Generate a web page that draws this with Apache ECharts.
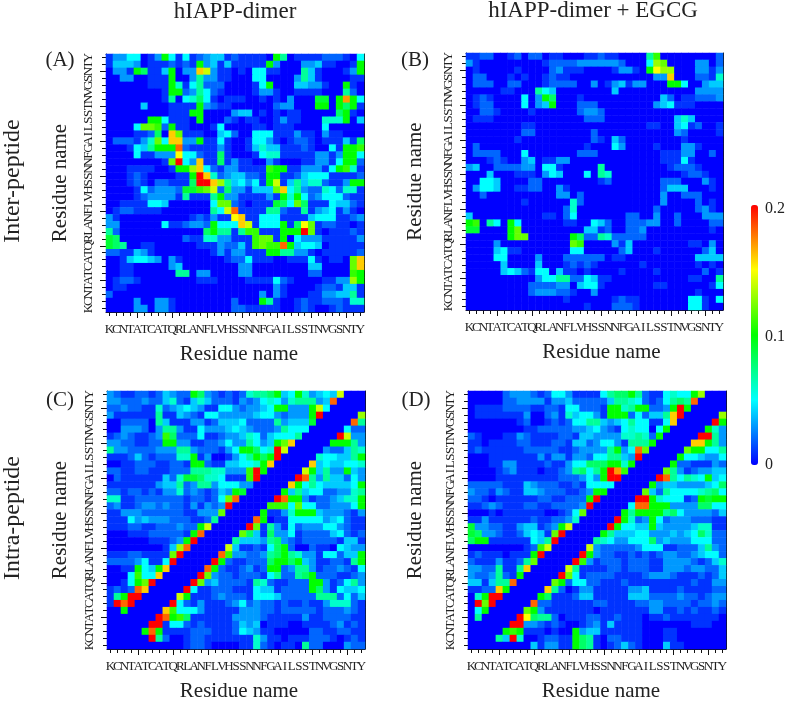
<!DOCTYPE html>
<html><head><meta charset="utf-8">
<style>html,body{margin:0;padding:0;background:#fff}#c{width:787px;height:703px}</style>
<script src="https://cdn.jsdelivr.net/npm/echarts@6/dist/echarts.min.js"></script>
</head><body><div id="c"></div>
<script>
// Residue sequence (axis tick labels)
const residues = "KCNTATCATQRLANFLVHSSNNFGAILSSTNVGSNTY".split("");
const columnTitles = ["hIAPP-dimer", "hIAPP-dimer + EGCG"];
const rowTitles = ["Inter-peptide", "Intra-peptide"];
const panelLetters = ["(A)", "(B)", "(C)", "(D)"];
const colorbarTicks = ["0", "0.1", "0.2"];
// Each row is one picture row, top to bottom. Each character is the contact
// probability in hundredths in base 21 (0..9, a=0.10 .. k=0.20).
const panelA = [
"13355 013a5 15123 44121 1110a 70111 12221 05","14443 01112 121a3 41411 111a3 00033 41100 1a",
"0331a 8114a 033ge 31101 05511 00074 10001 3a","00330 0111a 00373 31100 05500 00374 10000 11",
"00000 0111a 61572 22000 015a0 00443 3100a 10","00000 0001a a2375 21000 01331 00111 10007 20",
"00000 00017 05685 10111 00101 03000 990ah a5","00000 40001 111a3 21100 00002 33000 aa0a8 a1",
"00000 00001 11aa0 00034 40101 01100 0008a 10","00000 0aa51 110a0 00210 11001 31100 0666a 04",
"00005 ccb2a 11000 15000 01101 11000 05000 00","00001 1280g c1110 04520 05551 11311 03110 00",
"02221 36c5g g33a1 15100 15531 01221 01114 18","00015 47aaa i2111 13100 14644 11121 0051a ab",
"00005 11333 f5521 18100 01566 11111 3313a a5","00000 0001c k53g1 18131 10031 00011 3315a a2",
"00011 11001 aadg5 21331 111ba a1133 315ab 61","00012 10000 11akg 62344 221aa 11245 55111 12",
"00012 10221 118kk gd745 351ae 14746 62113 aa","00001 52333 299bc e2833 1444c g5732 26526 61",
"00001 23333 17111 7a331 11131 a6a52 35552 11","00111 15540 00000 5cc21 01119 85c81 11544 21",
"01221 11100 00000 75ei1 11177 21171 34513 10","31000 00000 00121 311fg 11555 11114 55511 23",
"33000 00051 12332 a555g e1555 a18fc 12211 01","72000 00000 00008 a7717 bb111 aaakc 10111 21",
"98000 00000 02116 63311 1bcc1 a0533 31111 13","98700 11000 00011 13224 1bcbb ia455 40111 11",
"22114 31000 00000 13133 111aa 77331 01111 12","00145 54303 10000 00122 51110 01115 10110 cg",
"00110 00003 40000 00003 30000 00004 40000 cg","00110 00000 77033 00003 30000 00002 20000 ba",
"01221 00000 00011 10000 11115 21000 01133 da","01100 00000 00000 00000 00003 10000 12214 41",
"20000 00000 00000 00000 00303 10001 13344 71","00003 00331 00000 00020 00a71 00121 12221 66",
"00003 30331 00000 00022 11111 00121 00121 11"];
const panelB = [
"11220 01202 20110 00112 11000 07b00 00000 02","31000 00000 01222 23333 33200 05dc0 00033 02",
"01000 00100 00231 11000 01331 0afdd 00033 13","02200 01010 01211 00000 00000 0033g 00022 16",
"02220 02200 01222 20030 13413 3000a a5003 44","00000 11000 75400 00000 04000 00000 00033 33",
"01210 00050 3a800 01000 00000 00042 01122 23","01220 00050 34a00 02220 00000 00345 11100 00",
"00221 00001 00000 02332 00000 00000 00000 00","01110 00000 00000 00222 00000 00000 46400 00",
"00000 00011 00000 00000 00000 01100 45120 01","00000 00022 00000 00020 00000 00000 32000 01",
"00000 00100 00000 00021 04200 00000 01000 00","02000 00000 00000 00100 05300 00100 03310 00",
"02222 00050 00000 02220 00000 00011 13300 20","00012 10034 01133 00000 00000 00011 15100 00",
"34002 22233 05510 00007 00000 00001 22210 00","00040 00111 03540 00507 60000 00000 01221 00",
"00554 00002 20000 00001 20000 00022 20003 10","03554 00112 20031 00000 00000 00024 44000 10",
"00200 00000 00033 02000 00000 00030 02220 00","00000 00010 00000 62000 00000 00030 00020 10",
"00000 00000 00002 60000 00000 00200 00023 10","40000 00000 01102 50000 00022 00300 20003 33",
"ab075 0a500 00001 10054 20022 23300 20000 22","99000 0ac00 00000 00441 20022 30000 00000 10",
"00000 0acc0 00000 a8227 62222 20000 00000 00","00003 00000 00000 cb000 03140 00000 00110 30",
"00004 51100 00000 55000 00240 00100 00002 40","00005 50000 30002 22222 01100 00000 00044 44",
"00000 40000 40001 21210 00000 10000 00010 10","00000 45421 55041 10100 00100 00100 00002 01",
"00000 00000 35577 22541 10000 00000 00110 07","00000 00002 22233 04551 00000 00110 00000 15",
"00000 00002 33322 10030 00000 00000 00010 00","00000 00000 00001 00000 01211 00000 00551 05",
"00000 00000 00000 00100 02221 00000 00551 00"];
const panelC = [
"32112 21243 22a83 21212 6778a 45a63 454e0 00","33222 32246 21464 22213 23565 36777 34i00 00",
"22322 11623 45431 15532 3345a a333a e5000 00","31111 11711 43215 53333 34553 2333a k0000 0d",
"00222 20741 11331 24445 22227 34449 00000 i7","00333 20377 31153 33454 32223 75550 00005 22",
"12321 123b8 22251 12334 65245 55700 000ke 33","33221 122aa 33112 23533 7534a cg000 00aaa 73",
"73322 22333 77322 2135a a856k e0000 03224 76","11124 21222 66a13 00135 7a8ak 00000 65544 7a",
"00112 22112 21aa2 11445 56ag0 0000g 45445 56","22112 21112 22777 66333 bka00 000ea 4733a 43",
"02111 11142 69986 65111 bk000 00ki7 37442 53","11111 11344 72377 35553 30000 0ga57 54444 5a",
"22122 12133 62321 243a9 00000 a4745 52233 67","66112 22222 21221 25ci0 0000k iaa31 22346 6a",
"23112 33232 21313 23k00 000bb b5c55 22333 5a","11333 22222 21133 3c000 00a11 36aaa 43332 13",
"11153 43332 22112 70000 0ia01 15555 53452 11","11122 11222 322ae 00000 kc173 15233 35532 11",
"00011 12222 21ai0 0000c 84183 35122 22452 12","00000 01112 3ak00 00074 44378 32122 22214 41",
"00000 00014 di000 00e41 12158 a2002 11054 33","11122 1111c k0000 0ib33 22378 a7633 15524 4a",
"22223 5115k 00000 ka211 2228a a8a43 11221 7a","0011a 54ag0 0000i a2112 312aa 23773 12232 15",
"0005b 55g00 000kc 32212 22157 2278a 22211 23","0015a ck000 00kc3 42222 17621 1222a a3125 73",
"1212i g0000 0k511 22211 15441 2222a 83154 45","17akk 00000 ea111 23222 15554 22222 77725 24",
"1kik0 0000k 52131 11235 23221 21121 13666 21","00a00 000gb 55531 11113 33221 22222 12223 21",
"00000 00kia b8111 11133 33211 11131 12222 11","00000 0kk15 52121 11124 34011 10011 11231 21",
"00000 aia11 11222 11125 43110 00002 21122 11","00000 0k720 01221 11111 16311 01112 22101 21",
"00000 00000 01221 00001 16210 11072 20003 22"];
const panelD = [
"00000 23332 12553 11115 788a7 21156 55ad0 00","00000 22333 31334 22222 47765 21257 87i00 00",
"01111 22221 12215 52221 aa67a a223a ka000 00","01111 11130 02316 45531 aaa25 2447g k0000 0d",
"00000 00120 01212 55774 34575 5115g 00000 ka","00000 00011 22222 33453 21565 505a0 0000a 63",
"21000 11321 11122 14433 33667 62a00 000kk 73","11011 11221 11221 44235 53177 7a000 00gga 73",
"12111 11122 22211 23333 7a35i c0000 0caa5 57","00011 11111 31331 33255 7743k 00000 a5543 35",
"00011 33111 12113 55888 aa6a0 0000a 22111 32","00001 23111 01123 7857a khb00 000c7 31233 44",
"00001 11111 11122 2353a kk000 00ki7 5765a 45","22222 11143 22211 21555 50000 0a344 33334 58",
"32213 21144 32221 123aa 00000 c4275 55567 85","22101 11111 22112 22ak0 0000k ka655 512a9 aa",
"11232 11122 11222 23k00 0005i iaaa3 33388 55","00010 11111 10012 5c000 00a7a aaa78 53333 24",
"11311 11112 11223 60000 0ka62 3a523 33222 11","93322 11344 123ae 00000 ka554 4a433 33466 11",
"98332 11245 41ck0 0000a 74445 53334 34586 22","8aa11 11115 47k00 00076 53355 58343 33555 22",
"00000 00012 be000 00e32 22223 55511 22247 32","12111 0111a k0000 0ka32 21121 21233 22345 52",
"21113 1127c 00000 kb312 22122 21133 33212 46","33227 117g0 0000e 71111 22122 21133 32332 24",
"32237 21a00 000kc 51222 21111 23332 11121 24","44147 7i000 00ca2 55221 11211 11111 11211 33",
"1122g a0000 0g720 13311 11133 41111 21111 22","06akk 00000 a8111 24411 11144 42222 32212 33",
"0kck0 0000i 22111 11122 11112 23322 22122 32","05a00 000ca 31111 11101 11111 13311 21211 21",
"07000 00kf8 77201 11221 12111 01121 11111 10","00000 0kk33 21210 01231 41111 00000 00111 00",
"00000 aba11 10100 a3441 11111 00011 00000 00","00007 4k600 12211 a8710 22111 00011 00000 00",
"00000 00004 13311 a8710 12421 00041 10000 00"];

const FONT = "Liberation Serif";
const panels = [
  {rows: panelA, left: 106, top: 54, size: 258, shift: 8, yGap: 35},
  {rows: panelB, left: 466, top: 53, size: 257, shift: 14, yGap: 40},
  {rows: panelC, left: 107, top: 391, size: 258, shift: 6, yGap: 36},
  {rows: panelD, left: 468, top: 391, size: 258, shift: 8, yGap: 42}
];
function decode(rows) {
  const out = [];
  rows.forEach((row, r) => {
    row.replace(/ /g, "").split("").forEach((ch, c) => {
      out.push([c, residues.length - 1 - r, parseInt(ch, 21) / 100]);
    });
  });
  return out;
}
const grid = [], xAxis = [], yAxis = [], series = [];
panels.forEach((p, i) => {
  grid.push({left: p.left, top: p.top, width: p.size, height: p.size, containLabel: false});
  const base = {type: "category", data: residues, gridIndex: i, boundaryGap: true};
  const line = {lineStyle: {color: "#111", width: 1}};
  const tick = (len, intv) => ({show: true, alignWithLabel: true, interval: intv, length: len, lineStyle: {color: "#111", width: 1}});
  const label = {show: true, interval: 0, fontFamily: FONT, fontSize: 13, color: "#222", margin: 11, hideOverlap: false};
  const major = k => (k + 1) % 5 === 0;
  const nameStyle = {fontFamily: FONT, fontSize: 21, color: "#222"};
  xAxis.push(
    Object.assign({}, base, {position: "bottom", axisLine: line, axisTick: tick(4, 0), axisLabel: label,
      name: "Residue name", nameLocation: "middle", nameGap: 32,
      nameTextStyle: Object.assign({}, nameStyle, {padding: [0, 0, 0, p.shift]})}),
    Object.assign({}, base, {position: "bottom", axisLine: {show: false}, axisTick: tick(6, major), axisLabel: {show: false}}),
    Object.assign({}, base, {position: "top", axisLine: line, axisTick: {show: false}, axisLabel: {show: false}})
  );
  yAxis.push(
    Object.assign({}, base, {position: "left", axisLine: line, axisTick: tick(4, 0),
      axisLabel: Object.assign({}, label, {rotate: 90, margin: 11}),
      name: "Residue name", nameLocation: "middle", nameGap: p.yGap, nameTextStyle: nameStyle}),
    Object.assign({}, base, {position: "left", axisLine: {show: false}, axisTick: tick(6, major), axisLabel: {show: false}}),
    Object.assign({}, base, {position: "right", axisLine: line, axisTick: {show: false}, axisLabel: {show: false}})
  );
  series.push({type: "heatmap", xAxisIndex: 3 * i, yAxisIndex: 3 * i, data: decode(p.rows),
    progressive: 0, itemStyle: {borderWidth: 0}, emphasis: {disabled: true}, silent: true});
});
const txt = (s, x, y, size, extra) => Object.assign({
  type: "text", x: x, y: y, silent: true,
  style: {text: s, font: size + "px '" + FONT + "'", fill: "#222", align: "center", verticalAlign: "middle"}
}, extra || {});
const graphic = [
  txt(columnTitles[0], 235, 12, 23), txt(columnTitles[1], 593, 11, 23),
  txt(rowTitles[0], 13, 181, 24, {rotation: Math.PI / 2}), txt(rowTitles[1], 13, 518, 24, {rotation: Math.PI / 2}),
  txt(panelLetters[0], 60, 60, 21), txt(panelLetters[1], 415, 60, 21),
  txt(panelLetters[2], 60, 400, 21), txt(panelLetters[3], 416, 400, 21)
];
const cbTop = 205, cbHeight = 260;
const cbLabelY = [465, 337, 209];
colorbarTicks.forEach((t, k) => {
  const g = txt(t, 765, cbLabelY[k], 16);
  g.style.align = "left";
  graphic.push(g);
});
const chart = echarts.init(document.getElementById("c"), null, {renderer: "canvas"});
chart.setOption({
  animation: false, backgroundColor: "#fff", grid, xAxis, yAxis, series, graphic,
  visualMap: {type: "continuous", min: 0, max: 0.2, seriesIndex: [0, 1, 2, 3], calculable: false,
    orient: "vertical", left: 751, top: cbTop, itemWidth: 7, itemHeight: cbHeight, padding: 0, text: null,
    showLabel: false, hoverLink: false, borderRadius: 0, itemStyle: {borderRadius: 0},
    inRange: {color: ["#0000ff", "#00ffff", "#00ff00", "#ffff00", "#ff0000"]}}
});
</script></body></html>
